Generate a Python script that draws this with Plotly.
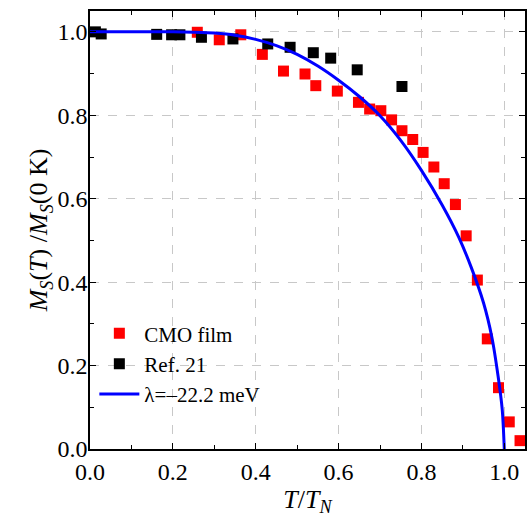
import plotly.graph_objects as go

# CMO film (red squares)
cmo_x = [0.259, 0.312, 0.364, 0.416, 0.467, 0.519, 0.545, 0.597, 0.648, 0.675, 0.702,
         0.728, 0.753, 0.779, 0.804, 0.830, 0.855, 0.882, 0.908, 0.935, 0.959, 0.986,
         1.012, 1.038]
cmo_y = [0.999, 0.981, 0.993, 0.946, 0.906, 0.899, 0.871, 0.858, 0.831, 0.815, 0.811,
         0.789, 0.763, 0.742, 0.711, 0.676, 0.636, 0.586, 0.511, 0.405, 0.264, 0.147,
         0.065, 0.020]

# Ref. 21 (black squares)
ref_x = [0.013, 0.027, 0.161, 0.197, 0.217, 0.269, 0.345, 0.429, 0.483, 0.539, 0.581,
         0.645, 0.753]
ref_y = [1.000, 0.995, 0.994, 0.993, 0.993, 0.987, 0.983, 0.971, 0.963, 0.950, 0.937,
         0.909, 0.869]

# Model curve (lambda = -22.2 meV)
fit_x = [0.0, 0.1, 0.2, 0.25, 0.3, 0.35, 0.4, 0.45, 0.5, 0.55, 0.6, 0.65, 0.7, 0.75,
         0.8, 0.85, 0.89, 0.92, 0.95, 0.97, 0.985, 0.995, 1.0]
fit_y = [1.0, 1.0, 1.0, 0.999, 0.997, 0.992, 0.982, 0.967, 0.946, 0.918, 0.884, 0.845,
         0.799, 0.740, 0.668, 0.585, 0.508, 0.436, 0.350, 0.268, 0.175, 0.095, 0.0]

x_ticks = [0.0, 0.2, 0.4, 0.6, 0.8, 1.0]
y_ticks = [0.0, 0.2, 0.4, 0.6, 0.8, 1.0]

FONT = "'Liberation Serif', 'Times New Roman', Times, serif"

fig = go.Figure()
fig.add_trace(go.Scatter(x=cmo_x, y=cmo_y, mode="markers", name="CMO film",
                         marker=dict(symbol="square", size=11, color="#ff0000")))
fig.add_trace(go.Scatter(x=ref_x, y=ref_y, mode="markers", name="Ref. 21",
                         marker=dict(symbol="square", size=11, color="#000000")))
fig.add_trace(go.Scatter(x=fit_x, y=fit_y, mode="lines", name="λ=–22.2 meV",
                         line=dict(color="#0000ff", width=3, shape="spline", smoothing=0.8)))

axis_common = dict(
    showline=True, linecolor="#000", linewidth=1.5, mirror="allticks",
    ticks="inside", ticklen=6, tickwidth=1.2, tickcolor="#000",
    showgrid=True, gridcolor="#c8c8c8", griddash="dash", gridwidth=1,
    zeroline=False, tickformat=".1f",
    tickfont=dict(family=FONT, size=24, color="#000"),
    minor=dict(ticks="inside", ticklen=4, tickcolor="#000", dtick=0.1, showgrid=False),
)

fig.update_xaxes(range=[0, 1.05], tickvals=x_ticks, **axis_common,
                 title=dict(text="<i>T</i>/<i>T</i><sub><i>N</i></sub>",
                            font=dict(family=FONT, size=26, color="#000"), standoff=2))
fig.update_yaxes(range=[0, 1.05], tickvals=y_ticks, **axis_common,
                 ticklabelstandoff=-4,
                 title=dict(text="<i>M</i><sub><i>S</i></sub>(<i>T</i>) /<i>M</i><sub><i>S</i></sub>(0 K)",
                            font=dict(family=FONT, size=26, color="#000"), standoff=2))

fig.update_layout(
    width=531, height=519,
    margin=dict(l=90, r=4, t=11, b=70),
    paper_bgcolor="white", plot_bgcolor="white",
    font=dict(family=FONT, color="#000"),
    showlegend=True,
    legend=dict(x=0.01, y=0.31, xanchor="left", yanchor="top",
                bgcolor="rgba(0,0,0,0)", font=dict(family=FONT, size=21, color="#000"),
                itemwidth=40, tracegroupgap=0),
)

fig.write_html("out.html", config={"displayModeBar": False},
               post_script="document.body.style.margin='0';document.body.style.overflow='hidden';")
